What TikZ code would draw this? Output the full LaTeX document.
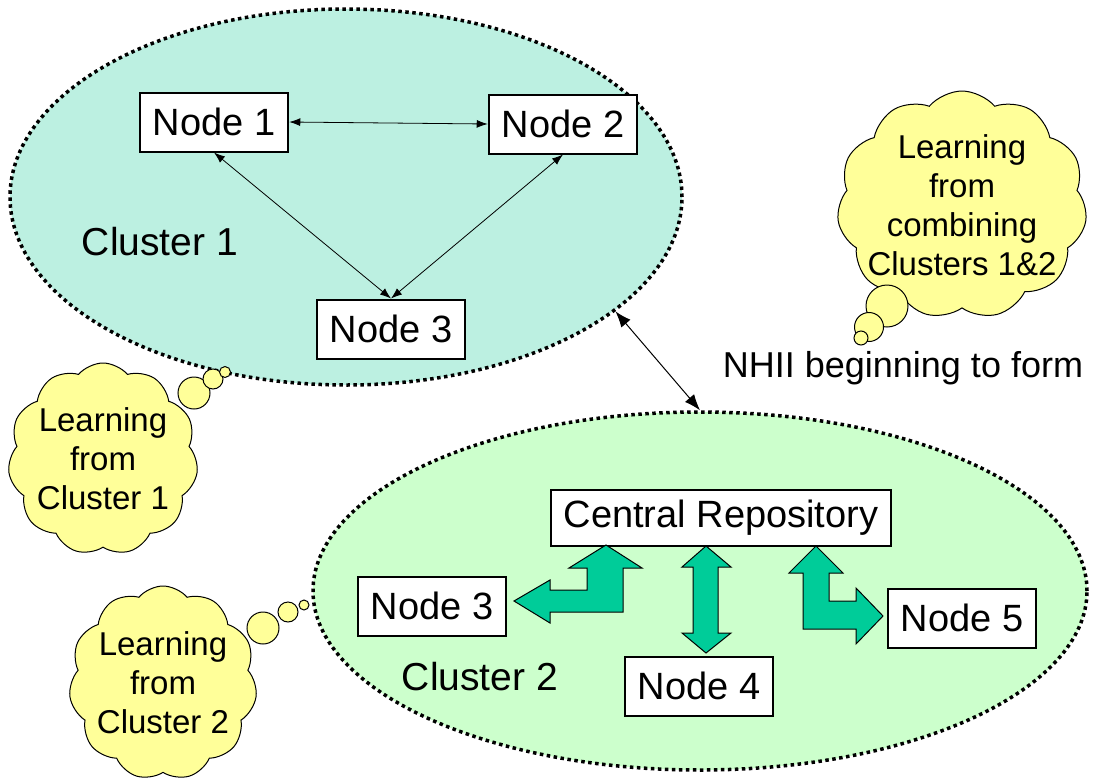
\documentclass[tikz,border=0pt]{standalone}
\usepackage{fontspec}
\setmainfont{Liberation Sans}
\usetikzlibrary{shapes.geometric,shapes.symbols,arrows.meta}
\definecolor{clustera}{RGB}{188,240,225}
\definecolor{clusterb}{RGB}{204,255,204}
\definecolor{thought}{RGB}{255,255,153}
\definecolor{bigarrow}{RGB}{0,204,153}
\begin{document}
\begin{tikzpicture}[x=1pt, y=-1pt,
    cluster/.style={ellipse, draw=black, line width=3.5pt, dash pattern=on 3.5pt off 3.5pt, inner sep=0pt},
    box/.style={rectangle, draw=black, line width=2pt, fill=white, inner xsep=13pt, minimum height=59pt, font=\fontsize{38}{40}\selectfont},
    label/.style={font=\fontsize{39}{40}\selectfont},
    thinking/.style={cloud, cloud puffs=11, cloud puff arc=100, cloud ignores aspect, draw=black, line width=1pt, fill=thought, inner sep=-25pt, align=center, font=\fontsize{33}{39}\selectfont},
    bubble/.style={circle, draw=black, line width=1pt, fill=thought, inner sep=0pt},
    blockarrow/.style={draw=black, line width=1pt, fill=bigarrow, line join=miter}]
    \useasboundingbox (0,0) rectangle (1096,780);
    % the two clusters
    \node (c1) at (346,197) [cluster, fill=clustera, minimum width=672pt, minimum height=376pt] {};
    \node (c2) at (700,591) [cluster, fill=clusterb, minimum width=774pt, minimum height=358pt] {};
    \draw[{Latex[length=16pt,width=12pt]}-{Latex[length=16pt,width=12pt]}, line width=1pt] (c1.-23) -- (c2.90);
    \node (nhii) at (903,368) [font=\fontsize{36}{40}\selectfont] {NHII beginning to form};
    % cluster 1
    \node (n1) at (214,122) [box] {Node 1};
    \node (n2) at (563,124) [box] {Node 2};
    \node (n3) at (391,329) [box] {Node 3};
    \node (lab1) at (160,242) [label] {Cluster 1};
    \draw[{Latex[length=11pt,width=8pt]}-{Latex[length=11pt,width=8pt]}, line width=0.8pt] (n1.east) -- (n2.west);
    \draw[{Latex[length=11pt,width=8pt]}-{Latex[length=11pt,width=8pt]}, line width=0.8pt] (n1.south) -- (n3.north);
    \draw[{Latex[length=11pt,width=8pt]}-{Latex[length=11pt,width=8pt]}, line width=0.8pt] (n2.south) -- (n3.north);
    % cluster 2
    \node (repo) at (721,518) [box, minimum height=56pt] {Central Repository};
    \node (m3) at (432,606) [box] {Node 3};
    \node (m4) at (699,686) [box] {Node 4};
    \node (m5) at (962,618) [box] {Node 5};
    \node (lab2) at (480,677) [label] {Cluster 2};
    \draw[blockarrow] (606,545) -- (642,568) -- (623,568) -- (623,612) -- (550,612) -- (550,623) -- (514,601)
        -- (550,580) -- (550,590) -- (587,590) -- (587,568) -- (569,568) -- cycle;
    \draw[blockarrow] (706,546) -- (731,567) -- (718,567) -- (718,633) -- (731,633) -- (706,653)
        -- (682,633) -- (693,633) -- (693,567) -- (682,567) -- cycle;
    \draw[blockarrow] (816,546) -- (843,573) -- (829,573) -- (829,601) -- (856,601) -- (856,588) -- (883,616)
        -- (856,644) -- (856,629) -- (803,629) -- (803,573) -- (789,573) -- cycle;
    % thought clouds
    \node (t1) at (103,459) [thinking, minimum width=190pt, minimum height=192pt] {Learning\\from\\Cluster 1};
    \node (t1a) at (194,393) [bubble, minimum size=32pt] {};
    \node (t1b) at (213,379) [bubble, minimum size=20pt] {};
    \node (t1c) at (225,372) [bubble, minimum size=11pt] {};
    \node (t2) at (163,683) [thinking, minimum width=188pt, minimum height=194pt] {Learning\\from\\Cluster 2};
    \node (t2a) at (263,628) [bubble, minimum size=32pt] {};
    \node (t2b) at (288,612) [bubble, minimum size=20pt] {};
    \node (t2c) at (304,605) [bubble, minimum size=10pt] {};
    \node (t3) at (962,205) [thinking, minimum width=250pt, minimum height=228pt] {Learning\\from\\combining\\Clusters 1\&2};
    \node (t3a) at (887,306) [bubble, minimum size=42pt] {};
    \node (t3b) at (869,327) [bubble, minimum size=29pt] {};
    \node (t3c) at (861,338) [bubble, minimum size=14pt] {};
\end{tikzpicture}
\end{document}
